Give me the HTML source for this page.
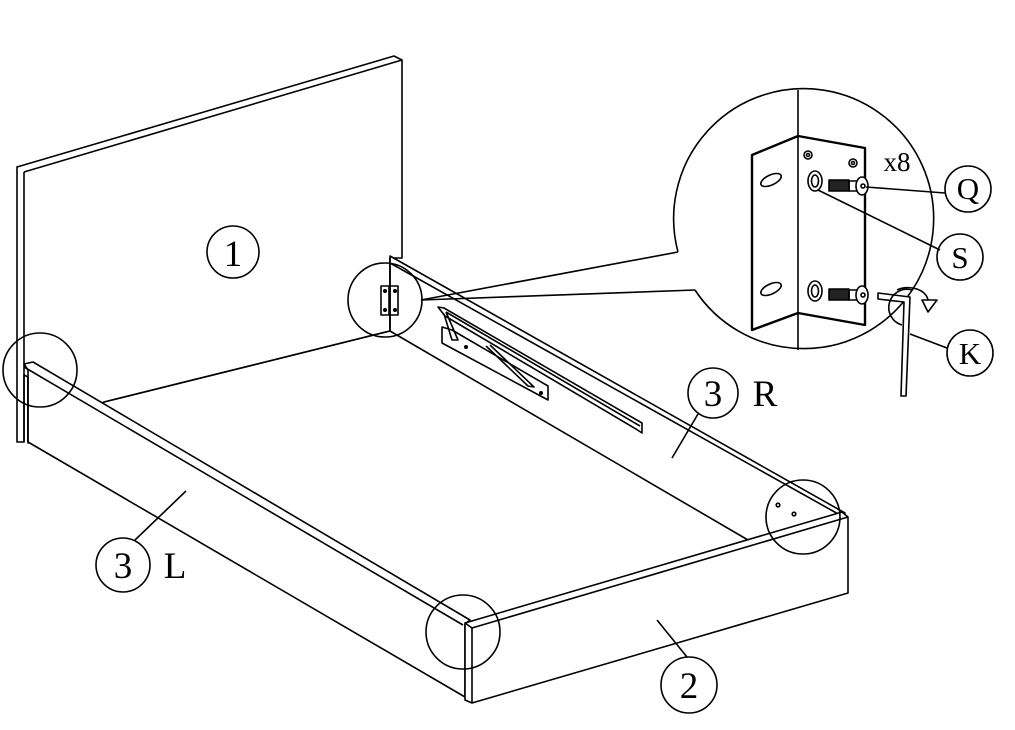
<!DOCTYPE html>
<html><head><meta charset="utf-8"><style>html,body{margin:0;padding:0;background:#fff}svg{display:block}</style></head>
<body>
<svg width="1015" height="730" viewBox="0 0 1015 730" xmlns="http://www.w3.org/2000/svg" fill="none" stroke="#000" stroke-width="1.6" stroke-linejoin="round">
<!-- headboard -->
<polygon points="17,167 394,56 402,60 402,258 390,258 390,331 104,402 28,443 28,377 24,375 24,442 17,442" fill="#fff"/>
<line x1="24" y1="172" x2="402" y2="60"/>
<line x1="24" y1="172" x2="24" y2="442"/>
<line x1="104" y1="402" x2="390" y2="331"/>
<!-- rail 3R -->
<polygon points="390,256 845,513 840,515 748,540 390,331" fill="#fff"/>
<line x1="390" y1="263" x2="840" y2="515"/>
<line x1="390" y1="258" x2="390" y2="331"/>
<!-- rail 3L -->
<polygon points="24,364 33,362 470,620 465,624 465,697 28,442 28,370" fill="#fff"/>
<line x1="24" y1="367" x2="463" y2="625"/>
<line x1="28" y1="377" x2="28" y2="442"/>
<!-- footboard -->
<polygon points="465,623 842,512 848,517 848,593 472,703 465,700" fill="#fff"/>
<line x1="472" y1="628" x2="848" y2="517"/>
<line x1="472" y1="628" x2="472" y2="703"/>
<line x1="465" y1="623" x2="472" y2="628"/>
<!-- bracket on 3R -->
<polygon points="438,307 444,308 642,423 642,433 636,429 445,316" fill="#fff"/>
<line x1="446" y1="312" x2="640" y2="426"/>
<polygon points="442,327 452,330 548,386 548,400 442,343" fill="#fff"/>
<polyline points="446,312 458,340 452,340 444,314"/>
<polyline points="490,345 534,387 528,386 486,346"/>
<circle cx="466" cy="347" r="1.2" fill="#000"/><circle cx="541" cy="393" r="1.2" fill="#000"/>
<!-- small circles -->
<circle cx="40" cy="370" r="37"/>
<circle cx="463" cy="632" r="37"/>
<circle cx="803" cy="517" r="37"/>
<circle cx="778" cy="505" r="1.8"/><circle cx="794" cy="514" r="1.8"/>
<circle cx="385" cy="300" r="37"/>
<rect x="381" y="286" width="17" height="29"/>
<line x1="389" y1="286" x2="389" y2="315"/>
<circle cx="385" cy="291" r="1.2" fill="#000"/><circle cx="385" cy="310" r="1.2" fill="#000"/>
<circle cx="395" cy="291" r="1.2" fill="#000"/><circle cx="395" cy="310" r="1.2" fill="#000"/>
<!-- callout -->
<line x1="421" y1="300" x2="678" y2="252"/>
<polyline points="421,300 695,290"/>
<path d="M678,252 A130,130 0 1 1 695,290"/>
<line x1="798" y1="90" x2="798" y2="350"/>
<!-- angle bracket detail -->
<polygon points="752,155 798,136 865,148 865,325 798,313 752,330" fill="#fff" stroke-width="2.4"/>
<line x1="798" y1="136" x2="798" y2="313"/>
<ellipse cx="771" cy="180" rx="11" ry="5" transform="rotate(-25 771 180)"/>
<ellipse cx="771" cy="289" rx="11" ry="5" transform="rotate(-25 771 289)"/>
<circle cx="808" cy="155" r="4"/><circle cx="808" cy="155" r="1.5"/>
<circle cx="853" cy="163" r="4"/><circle cx="853" cy="163" r="1.5"/>
<ellipse cx="815" cy="181" rx="7" ry="10"/><ellipse cx="815" cy="181" rx="3.5" ry="6"/>
<ellipse cx="815" cy="291" rx="7" ry="10"/><ellipse cx="815" cy="291" rx="3.5" ry="6"/>
<rect x="829" y="180" width="20" height="11" fill="#222"/><rect x="849" y="181" width="8" height="10"/>
<ellipse cx="862" cy="186" rx="6" ry="9" fill="#fff"/><circle cx="863" cy="186" r="2"/>
<rect x="829" y="289" width="20" height="11" fill="#222"/><rect x="849" y="290" width="8" height="10"/>
<ellipse cx="862" cy="295" rx="6" ry="9" fill="#fff"/><circle cx="863" cy="295" r="2"/>
<!-- allen key -->
<path d="M878,293 L910,297 L906,396 L901,396 L904,302 L878,299 Z" fill="#fff"/>
<path d="M912,290 A18,18 0 1 0 902,325" />
<path d="M897,290 A20,14 0 0 1 928,300"/>
<polygon points="922,300 937,300 928,312" fill="#fff"/>
<!-- labels -->
<g font-family="Liberation Serif, serif" font-size="37" fill="#000" stroke="none" text-anchor="middle">
<text x="233" y="266">1</text>
<text x="713" y="406">3</text>
<text x="765" y="406">R</text>
<text x="123" y="578">3</text>
<text x="175" y="578">L</text>
<text x="689" y="698">2</text>
<text x="897" y="171" font-size="27">x8</text>
<text x="968" y="199" font-size="31">Q</text>
<text x="960" y="268" font-size="31">S</text>
<text x="970" y="364" font-size="31">K</text>
</g>
<circle cx="233" cy="252" r="26"/>
<circle cx="713" cy="393" r="25"/>
<circle cx="123" cy="565" r="27"/>
<circle cx="689" cy="685" r="28"/>
<circle cx="968" cy="189" r="23"/>
<circle cx="960" cy="257" r="23"/>
<circle cx="970" cy="353" r="23"/>
<line x1="672" y1="458" x2="698" y2="414"/>
<line x1="186" y1="491" x2="135" y2="540"/>
<line x1="657" y1="620" x2="687" y2="657"/>
<line x1="866" y1="187" x2="945" y2="193"/>
<line x1="818" y1="190" x2="940" y2="250"/>
<line x1="910" y1="334" x2="947" y2="348"/>
</svg>
</body></html>
